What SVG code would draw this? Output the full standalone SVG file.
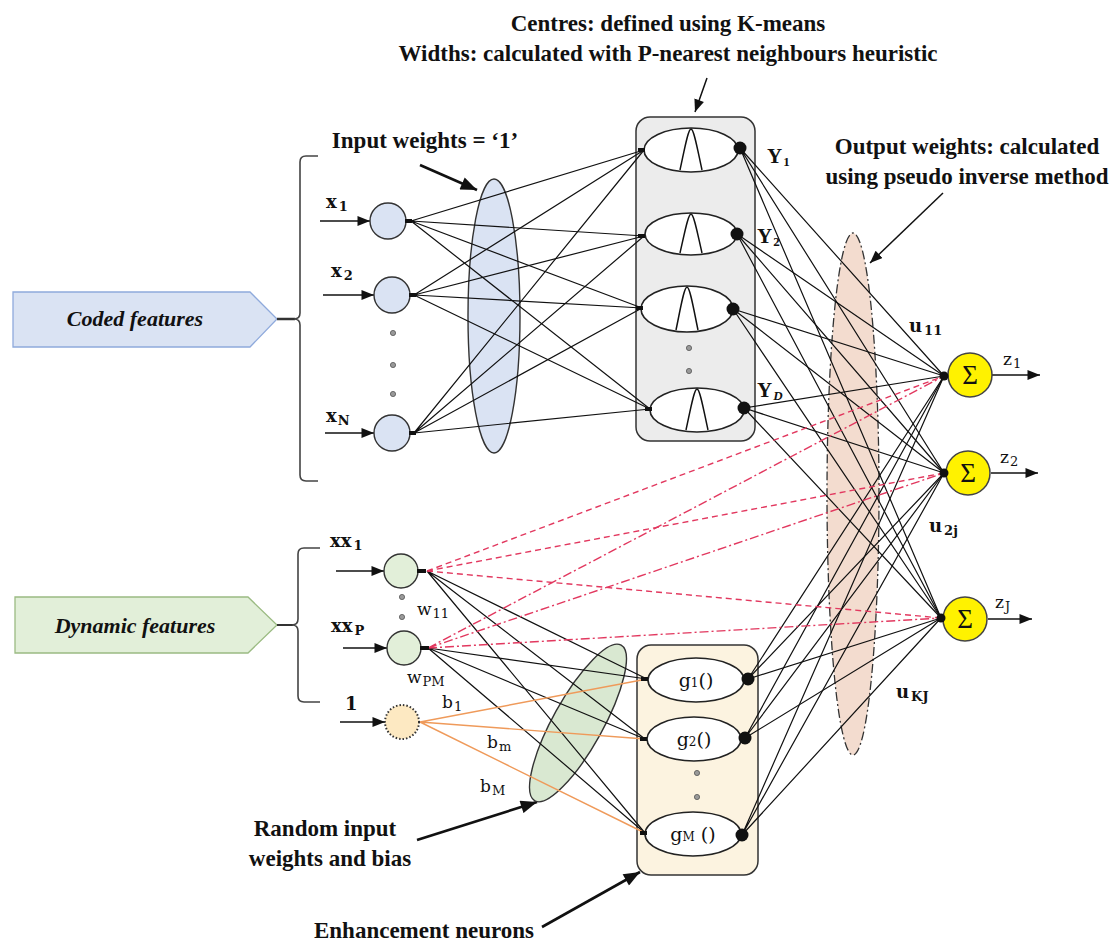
<svg xmlns="http://www.w3.org/2000/svg" width="1113" height="942" viewBox="0 0 1113 942">
<defs>
<style>
.big{font-family:"Liberation Serif","Times New Roman",serif;font-weight:bold;font-size:23px;fill:#111}
.feat{font-family:"Liberation Serif","Times New Roman",serif;font-weight:bold;font-style:italic;font-size:22px;fill:#111}
.vb{font-family:"DejaVu Serif","Liberation Serif",serif;font-weight:bold;font-size:18px;fill:#111}
.vr{font-family:"DejaVu Serif","Liberation Serif",serif;font-size:17px;fill:#111}
.yb{font-family:"Liberation Serif","Times New Roman",serif;font-weight:bold;font-size:21px;fill:#111}
.sub{font-size:13px}
.gl{font-family:"DejaVu Serif","Liberation Serif",serif;font-size:19px;fill:#111}
.sig{font-family:"Liberation Serif","Times New Roman",serif;font-size:27px;fill:#111}
.ln{stroke:#111;stroke-width:1.2;fill:none}
.or{stroke:#ef9a5a;stroke-width:1.4;fill:none}
.rd{stroke:#e2385f;stroke-width:1.4;fill:none;stroke-dasharray:6 4}
.rdd{stroke:#e2385f;stroke-width:1.4;fill:none;stroke-dasharray:9 3 2 3}
.in{stroke:#111;stroke-width:1.5;fill:none}
.ann{stroke:#111;stroke-width:2.6;fill:none}
.thin{stroke:#111;stroke-width:1.5;fill:none}
.blue{fill:#dae3f3;stroke:#333;stroke-width:1.4}
.green{fill:#e2efd9;stroke:#333;stroke-width:1.4}
.wel{fill:#fff;stroke:#222;stroke-width:1.6}
.dot{fill:#111}
.sd{fill:#999;stroke:#555;stroke-width:0.8}
.brk{stroke:#444;stroke-width:1.6;fill:none}
</style>
<marker id="ah" viewBox="0 0 10 8" refX="10" refY="4" markerWidth="13" markerHeight="10" markerUnits="userSpaceOnUse" orient="auto"><path d="M0,0 L10,4 L0,8 z" fill="#111"/></marker>
<marker id="ahB" viewBox="0 0 10 8" refX="10" refY="4" markerWidth="17" markerHeight="13" markerUnits="userSpaceOnUse" orient="auto"><path d="M0,0 L10,4 L0,8 z" fill="#111"/></marker>
</defs>
<rect width="1113" height="942" fill="#fff"/>

<g id="annotations">
<text class="big" x="668" y="31" text-anchor="middle">Centres: defined using K-means</text>
<text class="big" x="668" y="61" text-anchor="middle">Widths: calculated with P-nearest neighbours heuristic</text>
<line class="thin" x1="707" y1="78" x2="695" y2="112" marker-end="url(#ah)"/>
<text class="big" x="425" y="148" text-anchor="middle">Input weights = ‘1’</text>
<line class="ann" x1="420" y1="165" x2="477" y2="190" marker-end="url(#ahB)"/>
<text class="big" x="967" y="154" text-anchor="middle">Output weights: calculated</text>
<text class="big" x="967" y="184" text-anchor="middle">using pseudo inverse method</text>
<line class="thin" x1="943" y1="193" x2="870" y2="263" marker-end="url(#ah)"/>
<text class="big" x="325" y="836" text-anchor="middle">Random input</text>
<text class="big" x="330" y="866" text-anchor="middle">weights and bias</text>
<line class="ann" x1="417" y1="840" x2="537" y2="802" marker-end="url(#ahB)"/>
<text class="big" x="424" y="938" text-anchor="middle">Enhancement neurons</text>
<line class="ann" x1="542" y1="927" x2="640" y2="872" marker-end="url(#ahB)"/>
</g>

<g id="coded-features">
<polygon points="13,292 250,292 277,319 250,347 13,347" fill="#dae3f3" stroke="#8faadc" stroke-width="1.3"/>
<text class="feat" x="135" y="326" text-anchor="middle">Coded features</text>
<line x1="277" y1="319" x2="295" y2="319" stroke="#333" stroke-width="2.5"/>
<path class="brk" d="M318,156 L306,156 Q300,156 300,162 L300,313 Q300,319 294,319 Q300,319 300,325 L300,475 Q300,481 306,481 L318,481"/>
</g>
<g id="dynamic-features">
<polygon points="15,597 248,597 277,625 248,653 15,653" fill="#e2efd9" stroke="#9bbb83" stroke-width="1.3"/>
<text class="feat" x="135" y="633" text-anchor="middle">Dynamic features</text>
<line x1="277" y1="625" x2="293" y2="625" stroke="#333" stroke-width="2"/>
<path class="brk" d="M320,548 L304,548 Q298,548 298,554 L298,619 Q298,625 292,625 Q298,625 298,631 L298,696 Q298,702 304,702 L320,702"/>
</g>

<g id="input-weights">
<ellipse cx="494" cy="316" rx="26" ry="137" class="blue"/>
</g>
<g id="random-weights">
<ellipse cx="578" cy="723" rx="25" ry="89" transform="rotate(29 578 723)" fill="#d9e8d1" stroke="#333" stroke-width="1.4"/>
</g>
<g id="output-weights">
<ellipse cx="853" cy="494" rx="26" ry="261" fill="#f3dccf" stroke="#333" stroke-width="1.3" stroke-dasharray="9 3 2 3"/>
</g>

<g id="rbf-box">
<rect x="636" y="117" width="119" height="324" rx="14" fill="#ececec" stroke="#333" stroke-width="1.5"/>
</g>
<g id="enh-box">
<rect x="637" y="645" width="121" height="230" rx="14" fill="#fcf3e0" stroke="#333" stroke-width="1.5"/>
</g>

<g id="connectors">
<path class="ln" d="M411,221 L644,150 M411,221 L644,236 M411,221 L642,308 M411,221 L650,409"/>
<path class="ln" d="M414,295 L644,150 M414,295 L644,236 M414,295 L642,308 M414,295 L650,409"/>
<path class="ln" d="M414,433 L644,150 M414,433 L644,236 M414,433 L642,308 M414,433 L650,409"/>
<path class="ln" d="M740,148 L944,376 M740,148 L944,473 M740,148 L941,618"/>
<path class="ln" d="M737,234 L944,376 M737,234 L944,473 M737,234 L941,618"/>
<path class="ln" d="M733,309 L944,376 M733,309 L944,473 M733,309 L941,618"/>
<path class="ln" d="M744,408 L944,376 M744,408 L944,473 M744,408 L941,618"/>
<path class="ln" d="M748,679 L944,376 M748,679 L944,473 M748,679 L941,618"/>
<path class="ln" d="M745,738 L944,376 M745,738 L944,473 M745,738 L941,618"/>
<path class="ln" d="M742,835 L944,376 M742,835 L944,473 M742,835 L941,618"/>
<path class="ln" d="M427,571 L647,679 M427,571 L645,739 M427,571 L645,833"/>
<path class="ln" d="M428,648 L647,679 M428,648 L645,739 M428,648 L645,833"/>
<path class="or" d="M420,722 L647,679 M420,722 L645,739 M420,722 L645,833"/>
<path class="rd" d="M427,571 L944,376 M427,571 L944,473 M427,571 L941,618"/>
<path class="rdd" d="M428,648 L944,376 M428,648 L944,473 M428,648 L941,618"/>
<line class="in" x1="320" y1="221" x2="370" y2="221" marker-end="url(#ah)"/>
<line class="in" x1="323" y1="295" x2="374" y2="295" marker-end="url(#ah)"/>
<line class="in" x1="325" y1="433" x2="374" y2="433" marker-end="url(#ah)"/>
<line class="in" x1="336" y1="571" x2="384" y2="571" marker-end="url(#ah)"/>
<line class="in" x1="343" y1="648" x2="387" y2="648" marker-end="url(#ah)"/>
<line class="in" x1="340" y1="722" x2="385" y2="722" marker-end="url(#ah)"/>
<line class="in" x1="992" y1="375" x2="1040" y2="375" marker-end="url(#ah)"/>
<line class="in" x1="991" y1="473" x2="1038" y2="473" marker-end="url(#ah)"/>
<line class="in" x1="988" y1="619" x2="1032" y2="619" marker-end="url(#ah)"/>
</g>

<g id="x1"><circle cx="388" cy="221" r="18" class="blue"/><rect x="405" y="219" width="7" height="4" class="dot"/>
<text class="vb" x="326" y="208">x<tspan class="sub" dx="2" dy="3">1</tspan></text></g>
<g id="x2"><circle cx="392" cy="295" r="18" class="blue"/><rect x="409" y="293" width="7" height="4" class="dot"/>
<text class="vb" x="331" y="277">x<tspan class="sub" dx="2" dy="3">2</tspan></text></g>
<g id="xN"><circle cx="392" cy="433" r="18" class="blue"/><rect x="409" y="431" width="7" height="4" class="dot"/>
<text class="vb" x="326" y="422">x<tspan class="sub" dx="1" dy="3">N</tspan></text></g>
<g id="x-dots"><circle cx="393" cy="333" r="2.6" class="sd"/><circle cx="393" cy="365" r="2.6" class="sd"/><circle cx="393" cy="394" r="2.6" class="sd"/></g>

<g id="xx1"><circle cx="401" cy="571" r="17" class="green"/><rect x="417" y="569" width="9" height="4" class="dot"/>
<text class="vb" x="330" y="547">xx<tspan class="sub" dx="2" dy="3">1</tspan></text></g>
<g id="xxP"><circle cx="404" cy="648" r="17" class="green"/><rect x="420" y="646" width="9" height="4" class="dot"/>
<text class="vb" x="331" y="632">xx<tspan class="sub" dx="2" dy="3">P</tspan></text></g>
<g id="xx-dots"><circle cx="402" cy="597" r="2.6" class="sd"/><circle cx="402" cy="617" r="2.6" class="sd"/></g>
<g id="bias"><circle cx="402" cy="722" r="17" fill="#fde9c2" stroke="#333" stroke-width="2" stroke-dasharray="1.5 2"/>
<text class="vb" x="345" y="710">1</text></g>

<g id="weight-labels">
<text class="vr" x="417" y="615">w<tspan class="sub" dx="1" dy="3">11</tspan></text>
<text class="vr" x="407" y="683">w<tspan class="sub" dx="1" dy="3">PM</tspan></text>
<text class="vr" x="442" y="708">b<tspan class="sub" dx="1" dy="3">1</tspan></text>
<text class="vr" x="487" y="748">b<tspan class="sub" dx="1" dy="3">m</tspan></text>
<text class="vr" x="480" y="792">b<tspan class="sub" dx="1" dy="3">M</tspan></text>
<text class="vb" x="909" y="332">u<tspan class="sub" dx="2" dy="3">11</tspan></text>
<text class="vb" x="929" y="532">u<tspan class="sub" dx="2" dy="3">2j</tspan></text>
<text class="vb" x="896" y="698">u<tspan class="sub" dx="2" dy="3">KJ</tspan></text>
</g>

<g id="rbf1"><ellipse cx="691" cy="150" rx="47" ry="22" class="wel"/><path class="thin" d="M680,170 C684,152 688,129 691,129 C694,129 698,152 702,170"/><rect x="638" y="148" width="7" height="4" class="dot"/><circle cx="740" cy="148" r="6.5" class="dot"/>
<text class="yb" x="767" y="163">Y<tspan class="sub" dx="1" dy="3">1</tspan></text></g>
<g id="rbf2"><ellipse cx="691" cy="234" rx="46" ry="21" class="wel"/><path class="thin" d="M680,253 C684,236 688,214 691,214 C694,214 698,236 702,253"/><rect x="638" y="234" width="7" height="4" class="dot"/><circle cx="737" cy="234" r="6.5" class="dot"/>
<text class="yb" x="757" y="243">Y<tspan class="sub" dx="1" dy="3">2</tspan></text></g>
<g id="rbf3"><ellipse cx="687" cy="309" rx="46" ry="23" class="wel"/><path class="thin" d="M676,330 C680,311 684,287 687,287 C690,287 694,311 698,330"/><rect x="636" y="306" width="7" height="4" class="dot"/><circle cx="733" cy="309" r="6.5" class="dot"/></g>
<g id="rbf-dots"><circle cx="689" cy="348" r="2.6" class="sd"/><circle cx="689" cy="371" r="2.6" class="sd"/></g>
<g id="rbfD"><ellipse cx="697" cy="410" rx="47" ry="22" class="wel"/><path class="thin" d="M686,430 C690,412 694,389 697,389 C700,389 704,412 708,430"/><rect x="645" y="407" width="7" height="4" class="dot"/><circle cx="744" cy="408" r="6.5" class="dot"/>
<text class="yb" x="757" y="397">Y<tspan class="sub" dx="1" dy="3" font-style="italic">D</tspan></text></g>

<g id="g1"><ellipse cx="696" cy="680" rx="48" ry="22" class="wel"/><rect x="641" y="677" width="7" height="4" class="dot"/><circle cx="748" cy="679" r="6.5" class="dot"/>
<text class="gl" x="696" y="687" text-anchor="middle">g<tspan font-size="12">1</tspan>()</text></g>
<g id="g2"><ellipse cx="694" cy="739" rx="47" ry="22" class="wel"/><rect x="640" y="737" width="7" height="4" class="dot"/><circle cx="745" cy="738" r="6.5" class="dot"/>
<text class="gl" x="694" y="746" text-anchor="middle">g<tspan font-size="12">2</tspan>()</text></g>
<g id="g-dots"><circle cx="697" cy="773" r="2.6" class="sd"/><circle cx="697" cy="797" r="2.6" class="sd"/></g>
<g id="gM"><ellipse cx="693" cy="834" rx="48" ry="22" class="wel"/><rect x="640" y="831" width="7" height="4" class="dot"/><circle cx="742" cy="835" r="6.5" class="dot"/>
<text class="gl" x="693" y="841" text-anchor="middle">g<tspan font-size="12">M</tspan> ()</text></g>

<g id="sum1"><circle cx="970" cy="375" r="22" fill="#fff200" stroke="#444" stroke-width="1.5"/><circle cx="944" cy="376" r="4.5" class="dot"/>
<text class="sig" x="970" y="384" text-anchor="middle">Σ</text>
<text class="vr" x="1003" y="365" font-size="20">z<tspan class="sub" dx="1" dy="3">1</tspan></text></g>
<g id="sum2"><circle cx="968" cy="473" r="22" fill="#fff200" stroke="#444" stroke-width="1.5"/><circle cx="944" cy="473" r="4.5" class="dot"/>
<text class="sig" x="968" y="482" text-anchor="middle">Σ</text>
<text class="vr" x="1000" y="463" font-size="20">z<tspan class="sub" dx="1" dy="3">2</tspan></text></g>
<g id="sumJ"><circle cx="965" cy="619" r="22" fill="#fff200" stroke="#444" stroke-width="1.5"/><circle cx="941" cy="618" r="4.5" class="dot"/>
<text class="sig" x="965" y="628" text-anchor="middle">Σ</text>
<text class="vr" x="995" y="608" font-size="20">z<tspan class="sub" dx="1" dy="3">J</tspan></text></g>
</svg>
